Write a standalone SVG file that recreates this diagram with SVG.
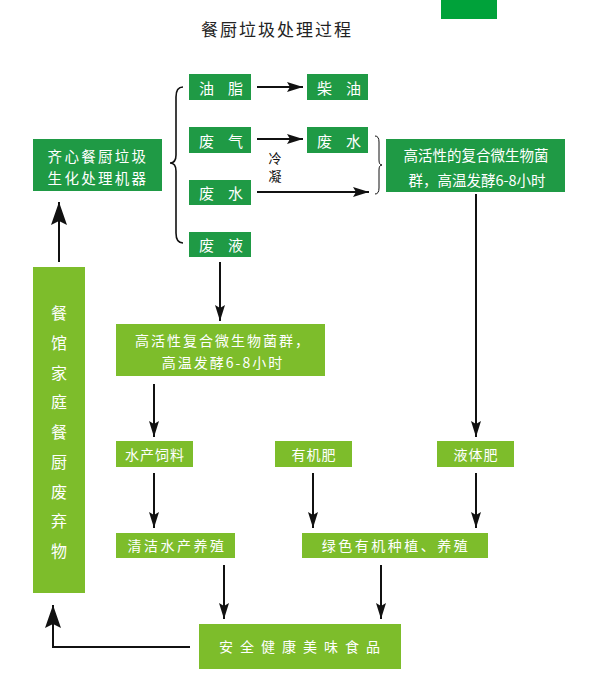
<svg xmlns="http://www.w3.org/2000/svg" width="592" height="680" viewBox="0 0 592 680">
<style>
.dg{fill:#1f9a45}
.lg{fill:#7dbd2b}
.t{font-family:"Noto Sans CJK SC","Noto Sans",sans-serif;fill:#ffffff;text-anchor:middle;dominant-baseline:central}
.ln{stroke:#111;stroke-width:2;fill:none}
</style>
<defs>
<marker id="a" markerUnits="userSpaceOnUse" markerWidth="18" markerHeight="10" refX="16" refY="5" orient="auto">
<path d="M0,0 L16,5 L0,10 L3,5 z" fill="#111"/>
</marker>
<marker id="b" markerUnits="userSpaceOnUse" markerWidth="24" markerHeight="16" refX="23" refY="8" orient="auto">
<path d="M0,0 L23,8 L0,16 L4,8 z" fill="#111"/>
</marker>
</defs>
<rect x="441" y="0" width="56" height="19" fill="#00a23a"/>
<text x="277" y="28" style="font-family:'Noto Sans CJK SC',sans-serif;font-size:17px;letter-spacing:2px;fill:#222;text-anchor:middle;dominant-baseline:central">餐厨垃圾处理过程</text>

<g id="connectors">
<line class="ln" x1="257" y1="87" x2="303" y2="87" marker-end="url(#a)"/>
<line class="ln" x1="257" y1="139" x2="303" y2="139" marker-end="url(#a)"/>
<line class="ln" x1="257" y1="192" x2="369" y2="192" marker-end="url(#a)"/>
<path d="M183,87 Q176,87 176,97 L176,155 Q176,163 170,163 Q176,163 176,171 L176,233 Q176,243 183,243" stroke="#111" stroke-width="1.6" fill="none"/>
<path d="M375,136 Q379,136 379,142 L379,160 Q379,165 382,165 Q379,165 379,170 L379,188 Q379,194 375,194" stroke="#111" stroke-width="1" fill="none"/>
<line class="ln" x1="476" y1="194" x2="476" y2="437" marker-end="url(#a)"/>
<line class="ln" x1="220" y1="262" x2="220" y2="321" marker-end="url(#a)"/>
<line class="ln" x1="154" y1="384" x2="154" y2="437" marker-end="url(#a)"/>
<line class="ln" x1="154" y1="473" x2="154" y2="528" marker-end="url(#a)"/>
<line class="ln" x1="313" y1="473" x2="313" y2="528" marker-end="url(#a)"/>
<line class="ln" x1="476" y1="473" x2="476" y2="528" marker-end="url(#a)"/>
<line class="ln" x1="224" y1="565" x2="224" y2="619" marker-end="url(#a)"/>
<line class="ln" x1="381" y1="565" x2="381" y2="619" marker-end="url(#a)"/>
<line class="ln" x1="59" y1="262" x2="59" y2="202" marker-end="url(#b)"/>
<polyline class="ln" points="190,647 53,647 53,605" marker-end="url(#b)"/>
<text x="275" y="157" style="font-family:'Noto Sans CJK SC',sans-serif;font-size:13px;fill:#111;text-anchor:middle;dominant-baseline:central">冷</text>
<text x="275" y="175" style="font-family:'Noto Sans CJK SC',sans-serif;font-size:13px;fill:#111;text-anchor:middle;dominant-baseline:central">凝</text>
</g>

<g id="n-machine"><rect class="dg" x="33" y="139" width="129" height="52"/>
<text class="t" x="98" y="155" font-size="14.5" letter-spacing="2.3">齐心餐厨垃圾</text>
<text class="t" x="98" y="177" font-size="14.5" letter-spacing="2.3">生化处理机器</text></g>

<g id="n-oil"><rect class="dg" x="189" y="74" width="62" height="26"/><text class="t" x="228" y="87" font-size="15" letter-spacing="14">油脂</text></g>
<g id="n-diesel"><rect class="dg" x="307" y="74" width="61" height="26"/><text class="t" x="346" y="87" font-size="15" letter-spacing="14">柴油</text></g>
<g id="n-gas"><rect class="dg" x="189" y="127" width="62" height="26"/><text class="t" x="228" y="140" font-size="15" letter-spacing="14">废气</text></g>
<g id="n-water2"><rect class="dg" x="307" y="127" width="61" height="26"/><text class="t" x="346" y="140" font-size="15" letter-spacing="14">废水</text></g>
<g id="n-water"><rect class="dg" x="189" y="180" width="62" height="25"/><text class="t" x="228" y="192" font-size="15" letter-spacing="14">废水</text></g>
<g id="n-liquid"><rect class="dg" x="189" y="232" width="62" height="25"/><text class="t" x="228" y="244" font-size="15" letter-spacing="14">废液</text></g>

<g id="n-ferment1"><rect class="dg" x="386" y="139" width="179" height="53"/>
<text class="t" x="476" y="154" font-size="14.5">高活性的复合微生物菌</text>
<text class="t" x="477" y="179" font-size="14.5">群，高温发酵6-8小时</text></g>

<g id="n-ferment2"><rect class="lg" x="116" y="324" width="209" height="52"/>
<text class="t" x="223" y="340" font-size="14" letter-spacing="2">高活性复合微生物菌群，</text>
<text class="t" x="223" y="362" font-size="14" letter-spacing="2">高温发酵6-8小时</text></g>

<g id="n-waste"><rect class="lg" x="33" y="267" width="52" height="326"/>
<text class="t" x="59" y="312" font-size="16">餐</text>
<text class="t" x="59" y="342" font-size="16">馆</text>
<text class="t" x="59" y="372" font-size="16">家</text>
<text class="t" x="59" y="401" font-size="16">庭</text>
<text class="t" x="59" y="431" font-size="16">餐</text>
<text class="t" x="59" y="461" font-size="16">厨</text>
<text class="t" x="59" y="491" font-size="16">废</text>
<text class="t" x="59" y="520" font-size="16">弃</text>
<text class="t" x="59" y="550" font-size="16">物</text></g>

<g id="n-feed"><rect class="lg" x="116" y="441" width="77" height="26"/><text class="t" x="155" y="454" font-size="14" letter-spacing="1">水产饲料</text></g>
<g id="n-organic"><rect class="lg" x="275" y="441" width="77" height="26"/><text class="t" x="314" y="454" font-size="14" letter-spacing="1">有机肥</text></g>
<g id="n-liqfert"><rect class="lg" x="437" y="441" width="77" height="26"/><text class="t" x="476" y="454" font-size="14" letter-spacing="1">液体肥</text></g>
<g id="n-aqua"><rect class="lg" x="116" y="533" width="119" height="25"/><text class="t" x="177" y="545" font-size="14" letter-spacing="2.5">清洁水产养殖</text></g>
<g id="n-green"><rect class="lg" x="302" y="533" width="186" height="25"/><text class="t" x="396" y="545" font-size="14" letter-spacing="2.5">绿色有机种植、养殖</text></g>
<g id="n-food"><rect class="lg" x="199" y="624" width="202" height="45"/><text class="t" x="303" y="646" font-size="14" letter-spacing="7">安全健康美味食品</text></g>
</svg>
